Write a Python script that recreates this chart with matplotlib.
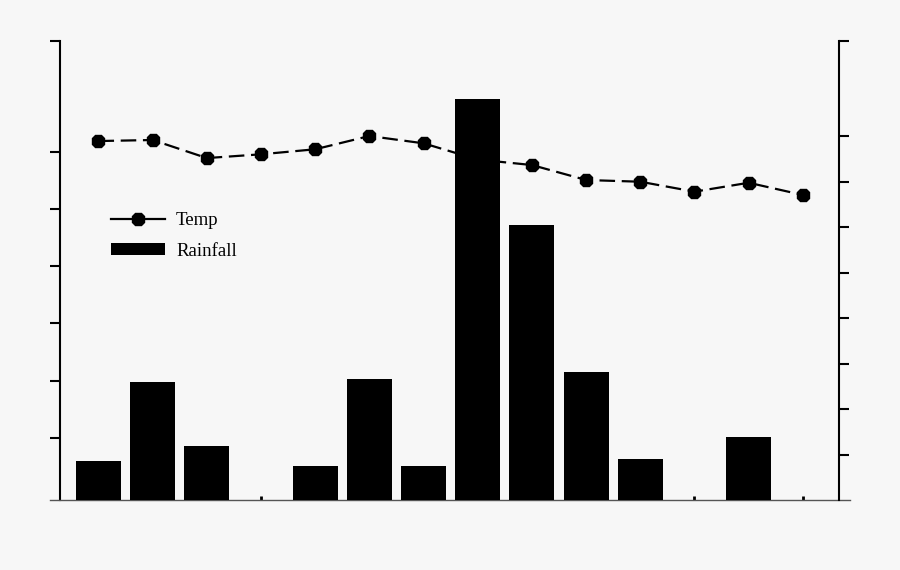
import matplotlib
matplotlib.use('Agg')
import matplotlib.pyplot as plt
from matplotlib.lines import Line2D
from matplotlib.patches import Patch

# 14 sample points, no labels on the original
positions = list(range(14))
temp = [35.96, 36.05, 34.47, 34.8, 35.24, 36.4, 35.76, 34.34, 33.86, 32.55, 32.4, 31.53, 32.31, 31.24]
rainfall = [0.86, 2.59, 1.19, 0.0, 0.75, 2.65, 0.75, 8.81, 6.04, 2.81, 0.90, 0.0, 1.38, 0.0]

temp_ticks = [10, 15, 20, 25, 30, 35, 44.74]
rain_ticks = [1, 2, 3, 4, 5, 6, 7, 8, 10.1]

BG = '#f7f7f7'
plt.rcParams['font.family'] = ['Liberation Serif', 'DejaVu Serif']

fig = plt.figure(figsize=(9, 5.7), dpi=100, facecolor=BG)
ax = fig.add_axes([50 / 900, 70 / 570, 800 / 900, 459.3 / 570])
ax.patch.set_visible(False)
ax2 = ax.twinx()
ax2.patch.set_visible(False)

# temperature line on the left scale, drawn below the bars
ax.plot(positions, temp, color='black', linewidth=1.6, linestyle=(0, (7, 3)),
        marker='8', markersize=9.5)
ax.set_ylim(4.55, 44.74)
ax.set_yticks(temp_ticks)
ax.set_yticklabels([])

# rainfall bars on the right scale
ax2.bar(positions, rainfall, width=0.83, color='black', edgecolor='none')
ax2.set_ylim(0, 10.1)
ax2.set_yticks(rain_ticks)
ax2.set_yticklabels([])

ax.set_xlim(-0.895, 13.87)
ax.set_xticks(positions)
ax.set_xticklabels([])
ax.tick_params(axis='x', direction='in', length=3, width=2, color='black')
ax2.tick_params(axis='x', length=0)

ax.tick_params(axis='y', direction='out', length=7.2, width=1.5, color='black')
ax2.tick_params(axis='y', direction='out', length=7.2, width=1.5, color='black')

for s in ['top', 'right']:
    ax.spines[s].set_visible(False)
for s in ['top', 'left', 'bottom']:
    ax2.spines[s].set_visible(False)
ax.spines['left'].set_position(('axes', 0.0125))
ax.spines['left'].set_linewidth(1.5)
ax2.spines['right'].set_position(('axes', 0.986))
ax2.spines['right'].set_linewidth(1.5)
ax.spines['bottom'].set_color('#555555')
ax.spines['bottom'].set_linewidth(1.0)

handles = [
    Line2D([], [], color='black', linewidth=1.6, marker='8', markersize=9.5),
    Patch(facecolor='black', edgecolor='none'),
]
fig.legend(handles, ['Temp', 'Rainfall'], loc='upper left',
           bbox_to_anchor=(111 / 900, 1 - 212 / 570), frameon=False,
           fontsize=13.5, handlelength=2.88, handleheight=0.59,
           handletextpad=0.59, borderpad=0, borderaxespad=0, labelspacing=0.72)

fig.savefig('out.png', dpi=100, facecolor=BG)
